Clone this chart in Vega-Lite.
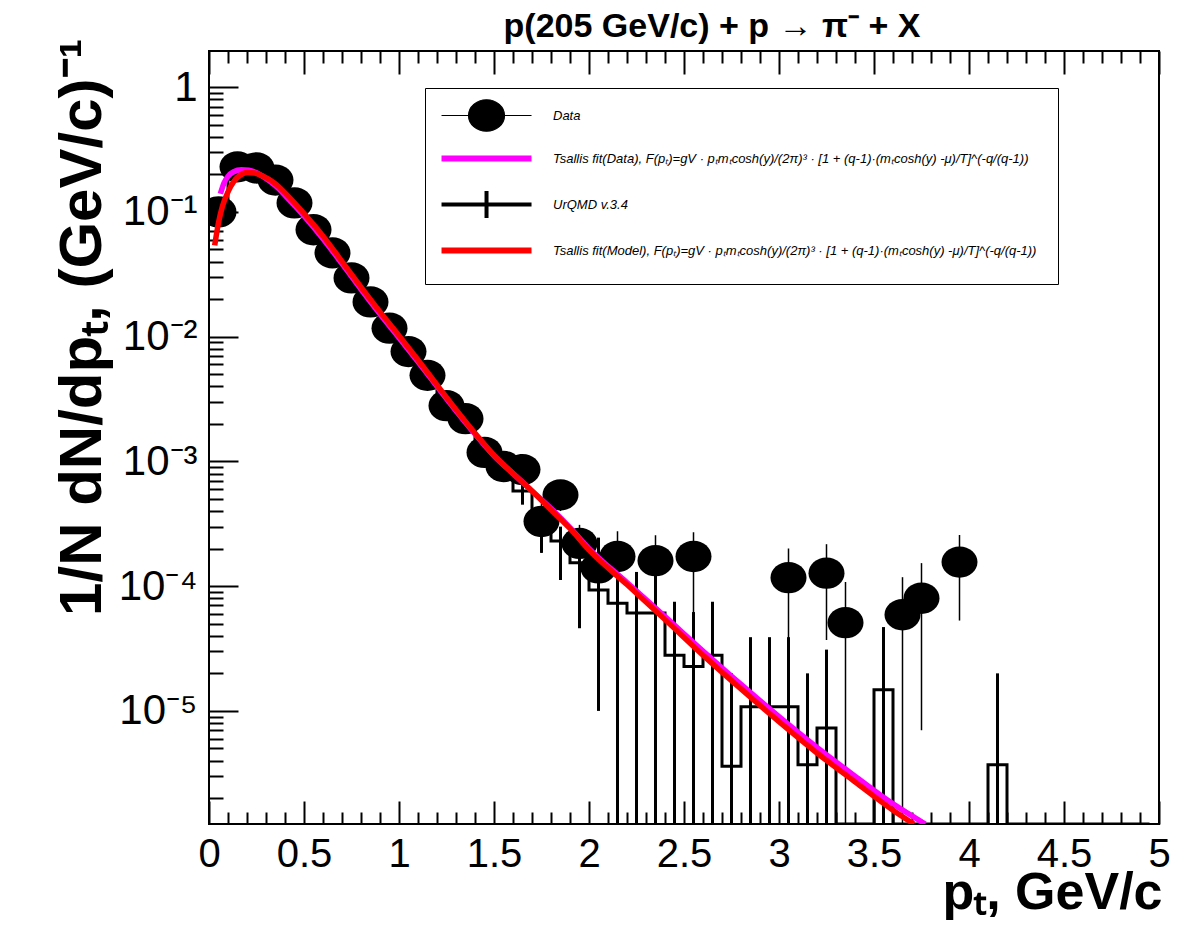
{
  "$schema": "https://vega.github.io/schema/vega-lite/v6.json",
  "autosize": {"type": "none"},
  "width": 950,
  "height": 773,
  "padding": {"left": 209, "top": 51, "right": 19, "bottom": 112},
  "background": "white",
  "title": {"text": "p(205 GeV/c) + p → π⁻ + X", "font": "Liberation Sans", "fontSize": 34, "fontWeight": "bold", "color": "black", "anchor": "middle", "frame": "group", "dx": 28, "offset": -33, "baseline": "alphabetic"},
  "datasets": {
    "pts": [
      {"pt": 0.05, "v": 0.100, "lo": 0.096, "hi": 0.104},
      {"pt": 0.15, "v": 0.230, "lo": 0.221, "hi": 0.239},
      {"pt": 0.25, "v": 0.225, "lo": 0.216, "hi": 0.234},
      {"pt": 0.35, "v": 0.180, "lo": 0.173, "hi": 0.187},
      {"pt": 0.45, "v": 0.118, "lo": 0.113, "hi": 0.123},
      {"pt": 0.55, "v": 0.072, "lo": 0.069, "hi": 0.075},
      {"pt": 0.65, "v": 0.047, "lo": 0.045, "hi": 0.049},
      {"pt": 0.75, "v": 0.0296, "lo": 0.0284, "hi": 0.0308},
      {"pt": 0.85, "v": 0.019, "lo": 0.0182, "hi": 0.0198},
      {"pt": 0.95, "v": 0.0117, "lo": 0.0111, "hi": 0.0123},
      {"pt": 1.05, "v": 0.0076, "lo": 0.0072, "hi": 0.0080},
      {"pt": 1.15, "v": 0.0049, "lo": 0.0046, "hi": 0.0052},
      {"pt": 1.25, "v": 0.0028, "lo": 0.0026, "hi": 0.0030},
      {"pt": 1.35, "v": 0.0022, "lo": 0.0020, "hi": 0.0024},
      {"pt": 1.45, "v": 0.00118, "lo": 0.00106, "hi": 0.0013},
      {"pt": 1.55, "v": 0.00091, "lo": 0.0008, "hi": 0.00102},
      {"pt": 1.65, "v": 0.00086, "lo": 0.00073, "hi": 0.00099},
      {"pt": 1.75, "v": 0.00033, "lo": 0.000185, "hi": 0.00046},
      {"pt": 1.85, "v": 0.00054, "lo": 0.0004, "hi": 0.00068},
      {"pt": 1.95, "v": 0.00022, "lo": 0.00013, "hi": 0.00031},
      {"pt": 2.05, "v": 0.00014, "lo": 0.00006, "hi": 0.00022},
      {"pt": 2.15, "v": 0.000173, "lo": 1e-9, "hi": 0.000276},
      {"pt": 2.35, "v": 0.00016, "lo": 1e-9, "hi": 0.000256},
      {"pt": 2.55, "v": 0.000173, "lo": 1e-9, "hi": 0.00027},
      {"pt": 3.05, "v": 0.000117, "lo": 1e-9, "hi": 0.0002},
      {"pt": 3.25, "v": 0.000127, "lo": 0.000037, "hi": 0.000217},
      {"pt": 3.35, "v": 0.000051, "lo": 1e-9, "hi": 0.000108},
      {"pt": 3.65, "v": 0.000059, "lo": 1e-9, "hi": 0.000118},
      {"pt": 3.75, "v": 0.00008, "lo": 0.000007, "hi": 0.000153},
      {"pt": 3.95, "v": 0.000156, "lo": 0.000053, "hi": 0.000257}
    ],
    "mc": [
      {"pt": 0.05, "v": 0.085, "lo": 0.081, "hi": 0.089},
      {"pt": 0.15, "v": 0.19, "lo": 0.183, "hi": 0.197},
      {"pt": 0.25, "v": 0.2, "lo": 0.193, "hi": 0.207},
      {"pt": 0.35, "v": 0.165, "lo": 0.159, "hi": 0.171},
      {"pt": 0.45, "v": 0.115, "lo": 0.111, "hi": 0.119},
      {"pt": 0.55, "v": 0.079, "lo": 0.076, "hi": 0.082},
      {"pt": 0.65, "v": 0.051, "lo": 0.049, "hi": 0.053},
      {"pt": 0.75, "v": 0.032, "lo": 0.0307, "hi": 0.0333},
      {"pt": 0.85, "v": 0.02, "lo": 0.0191, "hi": 0.0209},
      {"pt": 0.95, "v": 0.0127, "lo": 0.0121, "hi": 0.0133},
      {"pt": 1.05, "v": 0.0082, "lo": 0.0078, "hi": 0.0086},
      {"pt": 1.15, "v": 0.0052, "lo": 0.0049, "hi": 0.0055},
      {"pt": 1.25, "v": 0.0033, "lo": 0.0031, "hi": 0.0035},
      {"pt": 1.35, "v": 0.0021, "lo": 0.00195, "hi": 0.00225},
      {"pt": 1.45, "v": 0.00138, "lo": 0.00127, "hi": 0.00149},
      {"pt": 1.55, "v": 0.00092, "lo": 0.00083, "hi": 0.00101},
      {"pt": 1.65, "v": 0.00058, "lo": 0.00045, "hi": 0.0007},
      {"pt": 1.75, "v": 0.0003, "lo": 0.000185, "hi": 0.00042},
      {"pt": 1.85, "v": 0.00023, "lo": 0.000112, "hi": 0.0003},
      {"pt": 1.95, "v": 0.000154, "lo": 0.000046, "hi": 0.00028},
      {"pt": 2.05, "v": 0.000093, "lo": 0.00001, "hi": 0.000245},
      {"pt": 2.15, "v": 0.000073, "lo": 1e-9, "hi": 0.000128},
      {"pt": 2.25, "v": 0.000061, "lo": 1e-9, "hi": 0.00013},
      {"pt": 2.35, "v": 0.000061, "lo": 1e-9, "hi": 0.00013},
      {"pt": 2.45, "v": 0.000028, "lo": 1e-9, "hi": 0.000075},
      {"pt": 2.55, "v": 0.0000227, "lo": 1e-9, "hi": 0.000062},
      {"pt": 2.65, "v": 0.000028, "lo": 1e-9, "hi": 0.000075},
      {"pt": 2.75, "v": 0.0000036, "lo": 1e-9, "hi": 0.00002},
      {"pt": 2.85, "v": 0.0000108, "lo": 1e-9, "hi": 0.000039},
      {"pt": 2.95, "v": 0.0000108, "lo": 1e-9, "hi": 0.000039},
      {"pt": 3.05, "v": 0.0000108, "lo": 1e-9, "hi": 0.000039},
      {"pt": 3.15, "v": 0.0000037, "lo": 1e-9, "hi": 0.00002},
      {"pt": 3.25, "v": 0.0000073, "lo": 1e-9, "hi": 0.000031},
      {"pt": 3.35, "v": 1e-9},
      {"pt": 3.45, "v": 1e-9},
      {"pt": 3.55, "v": 0.0000148, "lo": 1e-9, "hi": 0.000047},
      {"pt": 3.65, "v": 1e-9},
      {"pt": 3.75, "v": 1e-9},
      {"pt": 3.85, "v": 1e-9},
      {"pt": 3.95, "v": 1e-9},
      {"pt": 4.05, "v": 1e-9},
      {"pt": 4.15, "v": 0.0000037, "lo": 1e-9, "hi": 0.00002},
      {"pt": 4.25, "v": 1e-9},
      {"pt": 4.35, "v": 1e-9},
      {"pt": 4.45, "v": 1e-9},
      {"pt": 4.55, "v": 1e-9},
      {"pt": 4.65, "v": 1e-9},
      {"pt": 4.75, "v": 1e-9},
      {"pt": 4.85, "v": 1e-9},
      {"pt": 4.95, "v": 1e-9}
    ],
    "fd": [
      {"pt": 0.06, "v": 0.14}, {"pt": 0.08, "v": 0.172}, {"pt": 0.10, "v": 0.193}, {"pt": 0.13, "v": 0.21},
      {"pt": 0.17, "v": 0.218}, {"pt": 0.21, "v": 0.216}, {"pt": 0.25, "v": 0.206}, {"pt": 0.30, "v": 0.185},
      {"pt": 0.35, "v": 0.162}, {"pt": 0.41, "v": 0.131}, {"pt": 0.50, "v": 0.093}, {"pt": 0.60, "v": 0.061},
      {"pt": 0.70, "v": 0.0385}, {"pt": 0.80, "v": 0.024}, {"pt": 0.90, "v": 0.0152}, {"pt": 1.00, "v": 0.0098},
      {"pt": 1.10, "v": 0.0063}, {"pt": 1.20, "v": 0.0040}, {"pt": 1.30, "v": 0.00255}, {"pt": 1.40, "v": 0.00166},
      {"pt": 1.50, "v": 0.00111}, {"pt": 1.60, "v": 0.0008}, {"pt": 1.70, "v": 0.00058}, {"pt": 1.80, "v": 0.00042},
      {"pt": 1.90, "v": 0.000295}, {"pt": 2.00, "v": 0.0002}, {"pt": 2.20, "v": 0.000107}, {"pt": 2.40, "v": 0.000057},
      {"pt": 2.60, "v": 0.0000302}, {"pt": 2.80, "v": 0.0000163}, {"pt": 3.00, "v": 0.000009}, {"pt": 3.20, "v": 0.0000051},
      {"pt": 3.40, "v": 0.000003}, {"pt": 3.60, "v": 0.0000018}, {"pt": 3.77, "v": 0.00000124}
    ],
    "fm": [
      {"pt": 0.03, "v": 0.054}, {"pt": 0.05, "v": 0.082}, {"pt": 0.07, "v": 0.11}, {"pt": 0.10, "v": 0.145},
      {"pt": 0.13, "v": 0.175}, {"pt": 0.16, "v": 0.195}, {"pt": 0.20, "v": 0.207}, {"pt": 0.24, "v": 0.205},
      {"pt": 0.28, "v": 0.195}, {"pt": 0.35, "v": 0.168}, {"pt": 0.41, "v": 0.137}, {"pt": 0.50, "v": 0.097},
      {"pt": 0.60, "v": 0.064}, {"pt": 0.70, "v": 0.04}, {"pt": 0.80, "v": 0.025}, {"pt": 0.90, "v": 0.0158},
      {"pt": 1.00, "v": 0.0102}, {"pt": 1.10, "v": 0.0065}, {"pt": 1.20, "v": 0.0041}, {"pt": 1.30, "v": 0.0026},
      {"pt": 1.40, "v": 0.00168}, {"pt": 1.50, "v": 0.00112}, {"pt": 1.60, "v": 0.0008}, {"pt": 1.70, "v": 0.00058},
      {"pt": 1.80, "v": 0.00041}, {"pt": 1.90, "v": 0.00029}, {"pt": 2.00, "v": 0.000195}, {"pt": 2.20, "v": 0.000103},
      {"pt": 2.40, "v": 0.000054}, {"pt": 2.60, "v": 0.000028}, {"pt": 2.80, "v": 0.000015}, {"pt": 3.00, "v": 0.0000082},
      {"pt": 3.20, "v": 0.0000046}, {"pt": 3.40, "v": 0.0000027}, {"pt": 3.60, "v": 0.0000016}, {"pt": 3.71, "v": 0.00000124}
    ]
  },
  "resolve": {"axis": {"x": "independent", "y": "independent"}},
  "layer": [
    {
      "data": {"name": "mc"},
      "mark": {"type": "line", "interpolate": "step", "strokeWidth": 3, "clip": true},
      "encoding": {
        "x": {"field": "pt", "type": "quantitative", "scale": {"domain": [0, 5], "nice": false, "zero": false},
          "axis": {"orient": "bottom", "values": [0, 0.5, 1, 1.5, 2, 2.5, 3, 3.5, 4, 4.5, 5], "format": "~g", "tickSize": -23, "labelPadding": 33, "labelFontSize": 40, "labelFlush": false, "labelOverlap": false,
            "title": "pₜ, GeV/c", "titleFontSize": 52, "titleFontWeight": "bold", "titleAnchor": "end", "titleAlign": "right", "titleBaseline": "alphabetic", "titleX": 953, "titleY": 84}},
        "y": {"field": "v", "type": "quantitative", "scale": {"type": "log", "domain": [1.24e-6, 1.95], "nice": false, "clamp": true},
          "axis": {"orient": "left", "values": [0.00001, 0.0001, 0.001, 0.01, 0.1, 1], "tickSize": -29, "labelPadding": 41, "labelFontSize": 42, "labelOverlap": false, "labelFlush": false,
            "labelExpr": "datum.value > 0.5 ? '1' : datum.value > 0.05 ? '10⁻¹' : datum.value > 0.005 ? '10⁻²' : datum.value > 0.0005 ? '10⁻³' : datum.value > 0.00005 ? '10⁻⁴' : '10⁻⁵'",
            "title": "1/N dN/dpₜ, (GeV/c)⁻¹", "titleFontSize": 60, "titleFontWeight": "bold", "titleAngle": 270, "titleAlign": "right", "titleBaseline": "alphabetic", "titleX": -109, "titleY": -13}},
        "color": {"datum": "UrQMD v.3.4",
          "scale": {"domain": ["Data", "Tsallis fit(Data)", "UrQMD v.3.4", "Tsallis fit(Model)"], "range": ["black", "#ff00ff", "black", "#ff0000"]},
          "legend": {"orient": "none", "legendX": 216, "legendY": 37, "title": null, "padding": 21, "fillColor": "white", "strokeColor": "black",
            "labelOffset": 94, "labelFont": "Liberation Sans", "labelFontStyle": "italic", "labelFontSize": 13, "labelColor": "black", "labelLimit": 900, "rowPadding": 12,
            "labelExpr": "datum.label === 'Tsallis fit(Data)' ? 'Tsallis fit(Data), F(pₜ)=gV · pₜmₜcosh(y)/(2π)³ · [1 + (q-1)·(mₜcosh(y) -μ)/T]^(-q/(q-1))' : datum.label === 'Tsallis fit(Model)' ? 'Tsallis fit(Model), F(pₜ)=gV · pₜmₜcosh(y)/(2π)³ · [1 + (q-1)·(mₜcosh(y) -μ)/T]^(-q/(q-1))' : datum.label",
            "encode": {"symbols": {"update": {
              "shape": {"signal": "datum.value === 'Data' ? 'M-0.244,0H1.756M1.156,0A0.4,0.35 0 1,1 0.356,0A0.4,0.35 0 1,1 1.156,0Z' : datum.value === 'UrQMD v.3.4' ? 'M-0.244,0H1.756M0.756,-0.3V0.3' : 'M-0.244,0H1.756'"},
              "fill": {"signal": "datum.value === 'Data' ? 'black' : 'transparent'"},
              "stroke": {"signal": "datum.value === 'Tsallis fit(Data)' ? '#ff00ff' : datum.value === 'Tsallis fit(Model)' ? '#ff0000' : 'black'"},
              "strokeWidth": {"signal": "datum.value === 'Data' ? 1.2 : datum.value === 'UrQMD v.3.4' ? 4 : 6"},
              "size": {"value": 8100},
              "opacity": {"value": 1}
            }}}}}
      }
    },
    {
      "data": {"name": "mc"},
      "mark": {"type": "rule", "strokeWidth": 3, "color": "black", "clip": true},
      "encoding": {
        "x": {"field": "pt", "type": "quantitative", "scale": {"domain": [0, 5], "nice": false, "zero": false},
          "axis": {"orient": "bottom", "values": [0.1,0.2,0.3,0.4,0.6,0.7,0.8,0.9,1.1,1.2,1.3,1.4,1.6,1.7,1.8,1.9,2.1,2.2,2.3,2.4,2.6,2.7,2.8,2.9,3.1,3.2,3.3,3.4,3.6,3.7,3.8,3.9,4.1,4.2,4.3,4.4,4.6,4.7,4.8,4.9], "tickSize": -12, "labels": false, "title": null}},
        "y": {"field": "lo", "type": "quantitative", "scale": {"type": "log", "domain": [1.24e-6, 1.95], "nice": false, "clamp": true},
          "axis": {"orient": "left", "values": [2e-6,3e-6,4e-6,5e-6,6e-6,7e-6,8e-6,9e-6,2e-5,3e-5,4e-5,5e-5,6e-5,7e-5,8e-5,9e-5,2e-4,3e-4,4e-4,5e-4,6e-4,7e-4,8e-4,9e-4,2e-3,3e-3,4e-3,5e-3,6e-3,7e-3,8e-3,9e-3,0.02,0.03,0.04,0.05,0.06,0.07,0.08,0.09,0.2,0.3,0.4,0.5,0.6,0.7,0.8,0.9], "tickSize": -14, "labels": false, "title": null}},
        "y2": {"field": "hi"}
      }
    },
    {
      "data": {"name": "pts"},
      "mark": {"type": "rule", "strokeWidth": 1.5, "color": "black", "clip": true},
      "encoding": {
        "x": {"field": "pt", "type": "quantitative", "scale": {"domain": [0, 5], "nice": false, "zero": false},
          "axis": {"orient": "top", "values": [0, 0.5, 1, 1.5, 2, 2.5, 3, 3.5, 4, 4.5, 5], "tickSize": -23, "labels": false, "title": null}},
        "y": {"field": "lo", "type": "quantitative", "scale": {"type": "log", "domain": [1.24e-6, 1.95], "nice": false, "clamp": true}, "axis": null},
        "y2": {"field": "hi"}
      }
    },
    {
      "data": {"name": "pts"},
      "mark": {"type": "point", "filled": true, "shape": "M1,0A1,0.87 0 1,1 -1,0A1,0.87 0 1,1 1,0Z", "size": 1296, "opacity": 1, "clip": true},
      "encoding": {
        "x": {"field": "pt", "type": "quantitative", "scale": {"domain": [0, 5], "nice": false, "zero": false},
          "axis": {"orient": "top", "values": [0.1,0.2,0.3,0.4,0.6,0.7,0.8,0.9,1.1,1.2,1.3,1.4,1.6,1.7,1.8,1.9,2.1,2.2,2.3,2.4,2.6,2.7,2.8,2.9,3.1,3.2,3.3,3.4,3.6,3.7,3.8,3.9,4.1,4.2,4.3,4.4,4.6,4.7,4.8,4.9], "tickSize": -12, "labels": false, "title": null}},
        "y": {"field": "v", "type": "quantitative", "scale": {"type": "log", "domain": [1.24e-6, 1.95], "nice": false, "clamp": true}, "axis": null},
        "color": {"datum": "Data"}
      }
    },
    {
      "data": {"name": "fd"},
      "mark": {"type": "line", "strokeWidth": 5.5, "interpolate": "monotone", "clip": true},
      "encoding": {
        "x": {"field": "pt", "type": "quantitative", "scale": {"domain": [0, 5], "nice": false, "zero": false}, "axis": null},
        "y": {"field": "v", "type": "quantitative", "scale": {"type": "log", "domain": [1.24e-6, 1.95], "nice": false, "clamp": true}, "axis": null},
        "color": {"datum": "Tsallis fit(Data)"}
      }
    },
    {
      "data": {"name": "fm"},
      "mark": {"type": "line", "strokeWidth": 5.5, "interpolate": "monotone", "clip": true},
      "encoding": {
        "x": {"field": "pt", "type": "quantitative", "scale": {"domain": [0, 5], "nice": false, "zero": false}, "axis": null},
        "y": {"field": "v", "type": "quantitative", "scale": {"type": "log", "domain": [1.24e-6, 1.95], "nice": false, "clamp": true}, "axis": null},
        "color": {"datum": "Tsallis fit(Model)"}
      }
    }
  ],
  "config": {
    "view": {"stroke": "black", "strokeWidth": 2},
    "axis": {"domain": false, "grid": false, "tickColor": "black", "tickWidth": 2, "labelColor": "black", "titleColor": "black", "labelFont": "Liberation Sans", "titleFont": "Liberation Sans"}
  }
}
